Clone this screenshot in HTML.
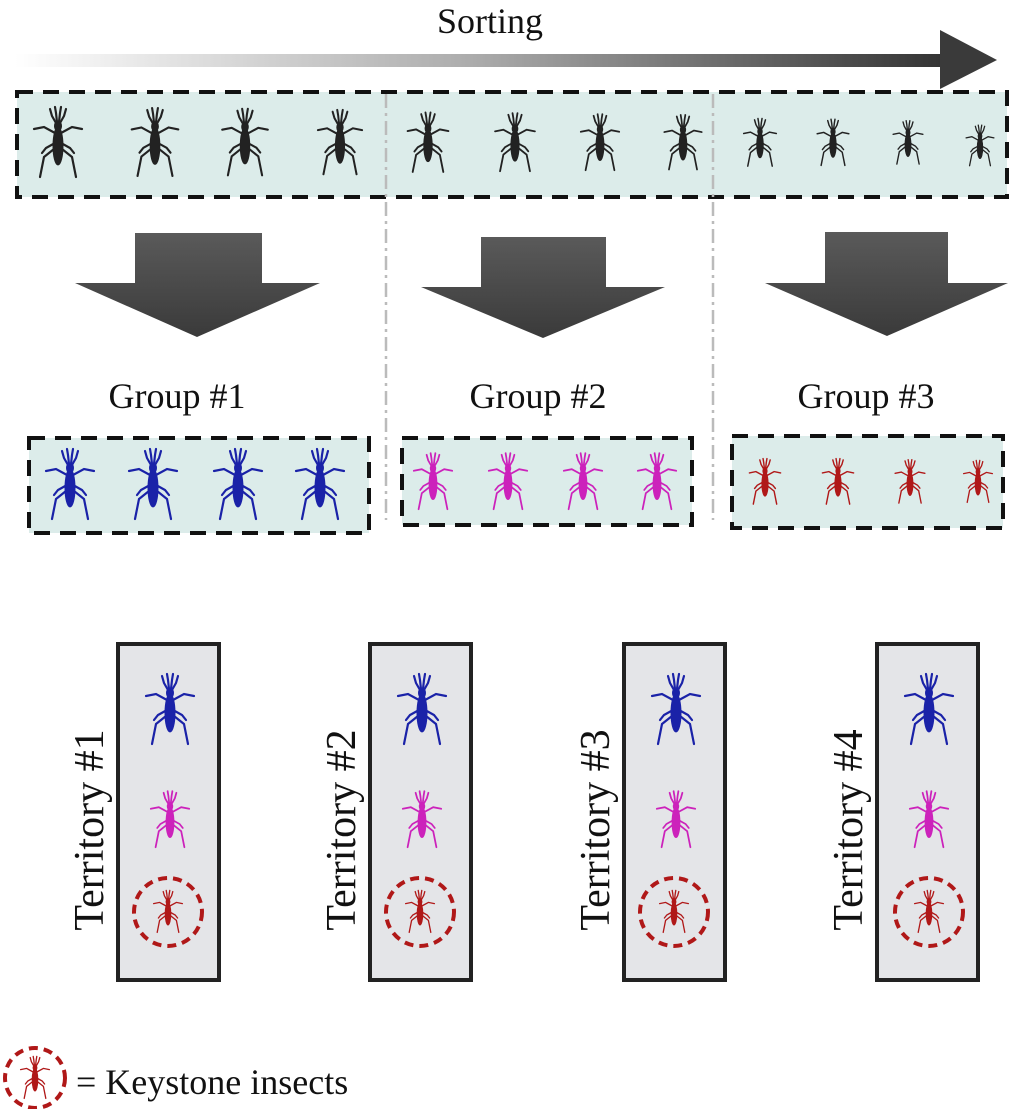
<!DOCTYPE html>
<html><head><meta charset="utf-8"><style>
html,body{margin:0;padding:0;background:#fff}
svg{display:block}
text{font-family:"Liberation Serif",serif;fill:#111}
</style></head><body>
<svg width="1017" height="1109" viewBox="0 0 1017 1109">
<defs>
<linearGradient id="sg" x1="0" x2="1" y1="0" y2="0"><stop offset="0" stop-color="#fff"/><stop offset="0.5" stop-color="#aaa"/><stop offset="1" stop-color="#333"/></linearGradient>
<linearGradient id="dg" x1="0" x2="0" y1="0" y2="1"><stop offset="0" stop-color="#5a5a5a"/><stop offset="1" stop-color="#3a3a3a"/></linearGradient>
<g id="bug">
<ellipse cx="0" cy="3" rx="5" ry="19"/>
<ellipse cx="0" cy="-17" rx="3.5" ry="5"/>
<g fill="none" stroke-width="2.2" stroke-linecap="round">
<polyline points="-2,-20 -6,-27 -8,-34"/><polyline points="2,-20 6,-27 8,-34"/>
<polyline points="-1,-21 -2,-30 -3,-36"/><polyline points="1,-21 2,-30 3,-36"/>
<polyline points="-3,-10 -14,-16 -24,-14"/><polyline points="3,-10 14,-16 24,-14"/>
<polyline points="-3,0 -12,5 -16,10"/><polyline points="3,0 12,5 16,10"/>
<polyline points="-4,6 -14,14 -18,34"/><polyline points="4,6 14,14 18,34"/>
</g>
</g>
</defs>
<text x="490" y="33" font-size="36" text-anchor="middle">Sorting</text>
<g>
<rect x="15" y="54" width="930" height="13" fill="url(#sg)"/>
<polygon points="940,30 997,60 940,89" fill="#3a3a3a"/>
</g>
<rect x="17" y="92" width="990" height="105" fill="#dcecea" stroke="#111" stroke-width="4" stroke-dasharray="16,10"/>
<g stroke="#bbb" stroke-width="2.5" stroke-dasharray="14,5,3,5">
<line x1="386" y1="94" x2="386" y2="520"/><line x1="713" y1="94" x2="713" y2="520"/>
</g>
<g fill="#222" stroke="#222">
<use href="#bug" transform="translate(58,143) scale(1)"/>
<use href="#bug" transform="translate(155,143) scale(0.97)"/>
<use href="#bug" transform="translate(245,143) scale(0.95)"/>
<use href="#bug" transform="translate(340,143) scale(0.92)"/>
<use href="#bug" transform="translate(428,143) scale(0.85)"/>
<use href="#bug" transform="translate(515,143) scale(0.83)"/>
<use href="#bug" transform="translate(600,143) scale(0.8)"/>
<use href="#bug" transform="translate(683,143) scale(0.78)"/>
<use href="#bug" transform="translate(760,143) scale(0.68)"/>
<use href="#bug" transform="translate(833,143) scale(0.66)"/>
<use href="#bug" transform="translate(908,143) scale(0.62)"/>
<use href="#bug" transform="translate(980,146) scale(0.58)"/>
</g>
<g fill="url(#dg)">
<polygon points="135,233 262,233 262,283 320,283 197,337 75,283 135,283"/>
<polygon points="481,237 606,237 606,287 665,287 543,338 421,287 481,287"/>
<polygon points="825,232 948,232 948,283 1008,283 887,336 765,283 825,283"/>
</g>
<text x="177" y="408" font-size="36" text-anchor="middle">Group #1</text>
<text x="538" y="408" font-size="36" text-anchor="middle">Group #2</text>
<text x="866" y="408" font-size="36" text-anchor="middle">Group #3</text>
<g fill="#dcecea" stroke="#111" stroke-width="4" stroke-dasharray="16,10">
<rect x="29" y="438" width="340" height="95"/>
<rect x="402" y="438" width="290" height="87"/>
<rect x="732" y="436" width="271" height="92"/>
</g>
<g fill="#1a22a8" stroke="#1a22a8">
<use href="#bug" transform="translate(70,485)"/><use href="#bug" transform="translate(153,485)"/><use href="#bug" transform="translate(238,485)"/><use href="#bug" transform="translate(320,485)"/>
</g>
<g fill="#cc22bb" stroke="#cc22bb">
<use href="#bug" transform="translate(433,482) scale(0.8)"/><use href="#bug" transform="translate(508,482) scale(0.8)"/><use href="#bug" transform="translate(583,482) scale(0.8)"/><use href="#bug" transform="translate(657,482) scale(0.8)"/>
</g>
<g fill="#b01818" stroke="#b01818">
<use href="#bug" transform="translate(765,482) scale(0.65)"/><use href="#bug" transform="translate(838,482) scale(0.65)"/><use href="#bug" transform="translate(910,482) scale(0.62)"/><use href="#bug" transform="translate(978,482) scale(0.6)"/>
</g>
<g>
<g>
<rect x="118" y="644" width="101" height="336" fill="#e4e5e8" stroke="#222" stroke-width="4"/>
<text transform="translate(103,830) rotate(-90)" font-size="42" text-anchor="middle">Territory #1</text>
<g fill="#1a22a8" stroke="#1a22a8"><use href="#bug" transform="translate(170,710)"/></g>
<g fill="#cc22bb" stroke="#cc22bb"><use href="#bug" transform="translate(170,820) scale(0.8)"/></g>
<circle cx="168" cy="912" r="34" fill="none" stroke="#b01818" stroke-width="4" stroke-dasharray="9,6"/>
<g fill="#b01818" stroke="#b01818"><use href="#bug" transform="translate(168,912) scale(0.6)"/></g>
</g>
<g>
<rect x="370" y="644" width="101" height="336" fill="#e4e5e8" stroke="#222" stroke-width="4"/>
<text transform="translate(355,830) rotate(-90)" font-size="42" text-anchor="middle">Territory #2</text>
<g fill="#1a22a8" stroke="#1a22a8"><use href="#bug" transform="translate(422,710)"/></g>
<g fill="#cc22bb" stroke="#cc22bb"><use href="#bug" transform="translate(422,820) scale(0.8)"/></g>
<circle cx="420" cy="912" r="34" fill="none" stroke="#b01818" stroke-width="4" stroke-dasharray="9,6"/>
<g fill="#b01818" stroke="#b01818"><use href="#bug" transform="translate(420,912) scale(0.6)"/></g>
</g>
<g>
<rect x="624" y="644" width="101" height="336" fill="#e4e5e8" stroke="#222" stroke-width="4"/>
<text transform="translate(609,830) rotate(-90)" font-size="42" text-anchor="middle">Territory #3</text>
<g fill="#1a22a8" stroke="#1a22a8"><use href="#bug" transform="translate(676,710)"/></g>
<g fill="#cc22bb" stroke="#cc22bb"><use href="#bug" transform="translate(676,820) scale(0.8)"/></g>
<circle cx="674" cy="912" r="34" fill="none" stroke="#b01818" stroke-width="4" stroke-dasharray="9,6"/>
<g fill="#b01818" stroke="#b01818"><use href="#bug" transform="translate(674,912) scale(0.6)"/></g>
</g>
<g>
<rect x="877" y="644" width="101" height="336" fill="#e4e5e8" stroke="#222" stroke-width="4"/>
<text transform="translate(862,830) rotate(-90)" font-size="42" text-anchor="middle">Territory #4</text>
<g fill="#1a22a8" stroke="#1a22a8"><use href="#bug" transform="translate(929,710)"/></g>
<g fill="#cc22bb" stroke="#cc22bb"><use href="#bug" transform="translate(929,820) scale(0.8)"/></g>
<circle cx="929" cy="912" r="34" fill="none" stroke="#b01818" stroke-width="4" stroke-dasharray="9,6"/>
<g fill="#b01818" stroke="#b01818"><use href="#bug" transform="translate(929,912) scale(0.6)"/></g>
</g>
</g>
<g>
<circle cx="35" cy="1078" r="30" fill="none" stroke="#b01818" stroke-width="4" stroke-dasharray="9,6"/>
<g fill="#b01818" stroke="#b01818"><use href="#bug" transform="translate(35,1078) scale(0.6)"/></g>
<text x="76" y="1094" font-size="36">= Keystone insects</text>
</g>
</svg>
</body></html>
